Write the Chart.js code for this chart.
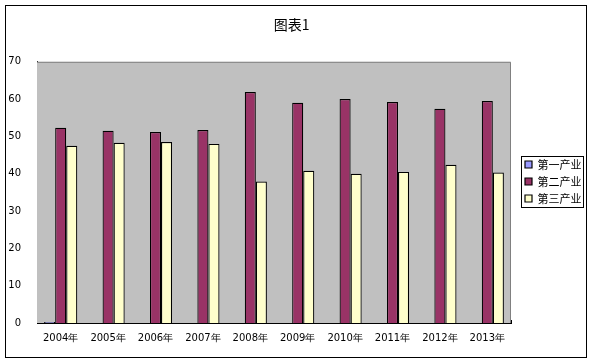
<!DOCTYPE html>
<html>
<head>
<meta charset="utf-8">
<script src="https://cdn.jsdelivr.net/npm/chart.js@4.4.1/dist/chart.umd.min.js"></script>
<style>
  body { margin: 0; background: #fff; }
  #wrap { width: 593px; height: 363px; }
</style>
</head>
<body>
<div id="wrap"><canvas id="myChart"></canvas></div>
<script>
const years = ['2004年', '2005年', '2006年', '2007年', '2008年', '2009年', '2010年', '2011年', '2012年', '2013年'];
const primary   = [0.3, 0, 0, 0, 0, 0, 0, 0, 0, 0];
const secondary = [52.3, 51.5, 51.2, 51.7, 61.9, 59.0, 60.0, 59.2, 57.4, 59.5];
const tertiary  = [47.5, 48.3, 48.5, 48.0, 37.9, 40.8, 40.0, 40.5, 42.4, 40.3];
const seriesNames = ['第一产业', '第二产业', '第三产业'];
const yTicks = [0, 10, 20, 30, 40, 50, 60, 70];

const ctx = document.getElementById('myChart');

// gray plot area, gray top/right edge, outer frame, legend box
const excelLook = {
  id: 'excelLook',
  afterLayout(chart) {
    chart.legend.left += 8;
    chart.legend.right += 8;
  },
  beforeDatasetsDraw(chart) {
    const a = chart.chartArea;
    const c = chart.ctx;
    c.save();
    c.fillStyle = '#C0C0C0';
    c.fillRect(a.left, a.top, a.right - a.left, a.bottom - a.top);
    c.strokeStyle = '#808080';
    c.lineWidth = 1;
    c.beginPath();
    c.moveTo(a.left, a.top + 0.5);
    c.lineTo(a.right - 0.5, a.top + 0.5);
    c.lineTo(a.right - 0.5, a.bottom);
    c.stroke();
    c.restore();
  },
  afterDraw(chart) {
    const c = chart.ctx;
    c.save();
    c.strokeStyle = '#000';
    c.lineWidth = 1;
    c.strokeRect(5.5, 5.5, 581, 352);
    const boxes = chart.legend.legendHitBoxes;
    if (boxes && boxes.length) {
      const first = boxes[0], last = boxes[boxes.length - 1];
      const x0 = chart.legend.left + 6 - 4;
      const y0 = first.top - 3;
      const y1 = last.top + last.height + 3;
      c.strokeRect(Math.round(x0) + 0.5, Math.round(y0) + 0.5, 62, Math.round(y1 - y0));
    }
    c.restore();
  }
};

new Chart(ctx, {
  type: 'bar',
  data: {
    labels: years,
    datasets: [
      { label: seriesNames[0], data: primary,   backgroundColor: '#9999FF' },
      { label: seriesNames[1], data: secondary, backgroundColor: '#993366' },
      { label: seriesNames[2], data: tertiary,  backgroundColor: '#FFFFCC' }
    ].map(d => Object.assign(d, {
      borderColor: '#000',
      borderWidth: 1.2,
      barPercentage: 1,
      categoryPercentage: 0.7
    }))
  },
  options: {
    responsive: true,
    maintainAspectRatio: false,
    animation: false,
    layout: { padding: { left: 0, top: 0, right: 9.5, bottom: 0 } },
    plugins: {
      title: {
        display: true,
        text: '图表1',
        color: '#000',
        font: { family: '"Noto Sans CJK SC", sans-serif', size: 14, weight: 'normal' },
        padding: { top: 16, bottom: 29 }
      },
      legend: {
        position: 'right',
        labels: {
          boxWidth: 7,
          boxHeight: 7,
          padding: 6,
          color: '#000',
          font: { family: '"Noto Sans CJK SC", sans-serif', size: 11 }
        }
      },
      tooltip: { enabled: false }
    },
    scales: {
      x: {
        grid: { display: true, drawOnChartArea: false, offset: true, tickLength: -3, color: '#000' },
        border: { display: true, color: '#000', width: 1 },
        ticks: { color: '#000', padding: 12, font: { family: '"DejaVu Sans", sans-serif', size: 10 }, maxRotation: 0 },
        afterFit(scale) { scale.height = 40; }
      },
      y: {
        min: 0,
        max: 70,
        grid: { display: false },
        border: { display: true, color: '#000', width: 1 },
        afterBuildTicks(scale) { scale.ticks = yTicks.map(v => ({ value: v })); },
        ticks: { color: '#000', padding: 8, font: { family: '"DejaVu Sans", sans-serif', size: 10 } },
        afterFit(scale) { scale.width = 37; }
      }
    }
  },
  plugins: [excelLook]
});
</script>
</body>
</html>
